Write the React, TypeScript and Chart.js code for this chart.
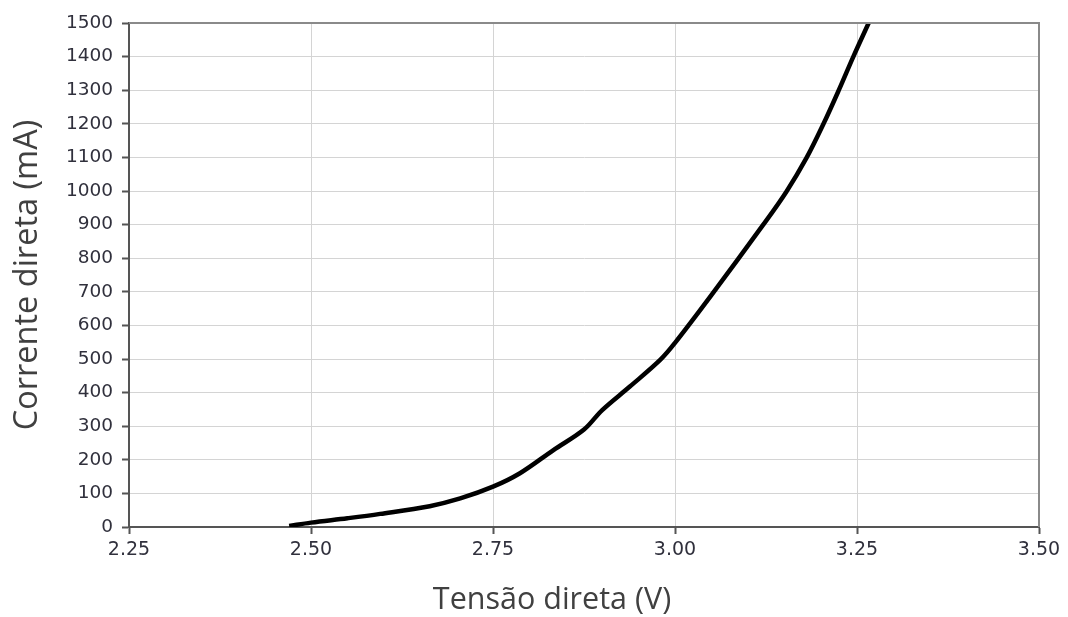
import React, { useEffect, useRef } from "react";
import { Chart, registerables } from "chart.js";

Chart.register(...registerables);

// Forward voltage (V) and forward current (mA) of the LED curve
const voltage = [2.47, 2.5, 2.55, 2.595, 2.663, 2.705, 2.75, 2.787, 2.833, 2.875, 2.9, 2.938, 2.98, 3.0, 3.05, 3.121, 3.153, 3.181, 3.204, 3.225, 3.245, 3.266];
const current = [3, 13, 26, 39, 62, 85, 120, 160, 229, 290, 348, 418, 498, 548, 690, 899, 998, 1100, 1200, 1300, 1400, 1500];

const xTitle = "Tensão direta (V)";
const yTitle = "Corrente direta (mA)";

// Frame around the plotting area (top and right edges) and the two axis titles
const frameAndTitles = {
  id: "frameAndTitles",
  afterDraw(chart: any) {
    const { ctx, chartArea: a } = chart;
    ctx.save();
    ctx.strokeStyle = "#8a8a8a";
    ctx.lineWidth = 2;
    ctx.beginPath();
    ctx.moveTo(a.left, a.top);
    ctx.lineTo(a.right, a.top);
    ctx.lineTo(a.right, a.bottom);
    ctx.stroke();

    ctx.fillStyle = "#404040";
    ctx.textAlign = "center";
    ctx.textBaseline = "alphabetic";
    ctx.font = "30.5px 'Open Sans'";
    ctx.fillText(xTitle, 552, 609);

    ctx.translate(37, (a.top + a.bottom) / 2);
    ctx.rotate(-Math.PI / 2);
    ctx.font = "32.5px 'Open Sans'";
    ctx.fillText(yTitle, 0, 0);
    ctx.restore();
  },
};

export default function App() {
  const ref = useRef<HTMLCanvasElement>(null);

  useEffect(() => {
    if (!ref.current) return;
    const points = voltage.map((v, i) => ({ x: v, y: current[i] }));
    const chart = new Chart(ref.current, {
      type: "scatter",
      data: {
        datasets: [
          {
            data: points,
            showLine: true,
            borderColor: "#000000",
            borderWidth: 4.5,
            pointRadius: 0,
            tension: 0.35,
          } as any,
        ],
      },
      options: {
        animation: false,
        responsive: false,
        maintainAspectRatio: false,
        layout: { padding: { left: 0, right: 29, top: 23, bottom: 0 } },
        plugins: { legend: { display: false }, tooltip: { enabled: false } },
        scales: {
          x: {
            type: "linear",
            min: 2.25,
            max: 3.5,
            ticks: {
              stepSize: 0.25,
              color: "#30303c",
              font: { family: "DejaVu Sans", size: 19 },
              padding: 5,
              callback: (v: any) => Number(v).toFixed(2),
            },
            grid: { color: "#d4d4d4", lineWidth: 1, tickLength: 7, tickColor: "#555555", tickWidth: 2 },
            border: { color: "#555555", width: 2 },
            afterFit: (s: any) => {
              s.height = 90;
            },
          },
          y: {
            type: "linear",
            min: 0,
            max: 1500,
            ticks: {
              stepSize: 100,
              color: "#30303c",
              font: { family: "DejaVu Sans", size: 18.5 },
              padding: 9,
              callback: (v: any) => String(v),
            },
            grid: { color: "#d4d4d4", lineWidth: 1, tickLength: 7, tickColor: "#555555", tickWidth: 2 },
            border: { color: "#555555", width: 2 },
            afterFit: (s: any) => {
              s.width = 129;
            },
          },
        },
      },
      plugins: [frameAndTitles],
    });
    return () => chart.destroy();
  }, []);

  return (
    <div style={{ position: "fixed", left: 0, top: 0, width: 1068, height: 617, background: "#ffffff" }}>
      <canvas ref={ref} width={1068} height={617} />
    </div>
  );
}
